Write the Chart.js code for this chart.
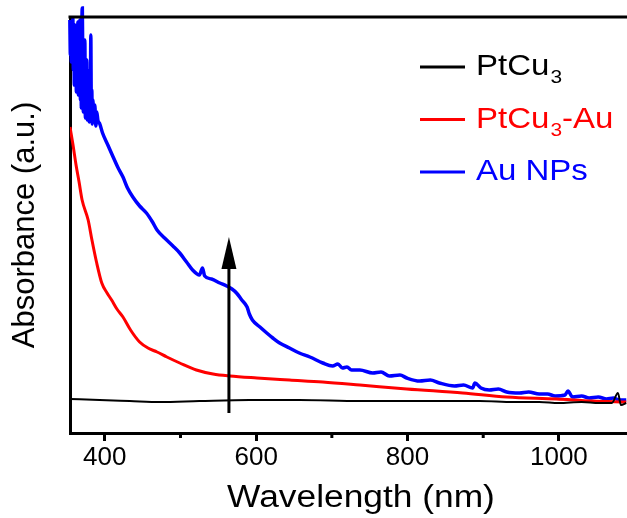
<!DOCTYPE html>
<html>
<head>
<meta charset="utf-8">
<script src="https://cdn.jsdelivr.net/npm/chart.js@4.4.1/dist/chart.umd.min.js"></script>
<style>
  html, body { margin: 0; padding: 0; background: #fff; }
</style>
</head>
<body>
<canvas id="uvCanvas" width="627" height="518"></canvas>
<script>
// UV-vis spectra (x in nm, y in a.u.)
var ptcuNm  = [354, 393, 433, 473, 525, 591, 657, 737, 816, 895, 940, 974, 1000, 1030, 1053, 1070, 1078, 1082, 1089];
var ptcuAbs = [0.34, 0.33, 0.32, 0.31, 0.32, 0.33, 0.33, 0.32, 0.32, 0.32, 0.31, 0.31, 0.30, 0.31, 0.30, 0.30, 0.40, 0.28, 0.30];

var ptcuAuNm  = [354, 358, 362, 366, 370, 378, 383, 389, 396, 403, 409, 416, 424, 434, 446, 457, 469, 482, 499, 521, 543, 565, 601, 644, 688, 737, 799, 873, 931, 997, 1044, 1089];
var ptcuAuAbs = [3.06, 2.88, 2.68, 2.51, 2.33, 2.13, 1.93, 1.71, 1.50, 1.40, 1.33, 1.24, 1.16, 1.03, 0.91, 0.85, 0.81, 0.76, 0.70, 0.63, 0.59, 0.57, 0.55, 0.53, 0.51, 0.48, 0.44, 0.40, 0.36, 0.34, 0.32, 0.31];

var auNm = [353.8, 354.5, 355.1, 355.8, 356.4, 357.1, 357.8, 358.4, 359.1, 359.7, 360.4, 361.1, 361.7, 362.4, 363.0, 363.7, 364.4, 365.0, 365.7, 366.3,
            367.0, 367.7, 368.3, 369.0, 369.6, 370.3, 371.0, 371.6, 372.3, 372.9, 373.6, 374.3, 374.9, 375.6, 376.2, 376.9, 377.6, 378.2, 378.9, 379.5,
            380.2, 380.9, 381.5, 382.2, 382.8, 383.5, 384.2, 385.5, 386.8, 388.1, 389.4, 390.8, 393.4, 397,
            404, 411, 417, 424, 430, 437, 446, 455, 463, 469, 479, 490, 499, 508, 516, 525, 529, 532, 541, 552, 561, 568, 574, 581, 588, 591, 595, 605, 614, 622,
            631, 644, 657, 671, 688, 701, 708, 714, 720, 726, 737, 754, 765, 776, 790, 799, 816, 830, 842, 862, 874, 886, 889, 897, 908, 920, 931, 948, 960, 974,
            985, 995, 1008, 1012, 1018, 1030, 1040, 1052, 1063, 1072, 1080, 1089];
var auAbs = [4.13, 3.78, 4.08, 3.71, 4.03, 3.88, 4.15, 3.63, 3.98, 3.48, 4.08, 3.73, 3.93, 3.41, 4.03, 3.58, 4.11, 3.38, 3.88, 3.63,
             4.13, 3.33, 3.83, 3.25, 4.03, 4.25, 3.58, 3.21, 3.78, 3.38, 3.93, 3.15, 3.63, 3.28, 3.73, 3.13, 3.53, 3.23, 3.38, 3.11,
             3.63, 3.18, 3.98, 3.23, 3.43, 3.09, 3.33, 3.15, 3.28, 3.07, 3.21, 3.13, 3.09, 3.00,
             2.88, 2.76, 2.66, 2.56, 2.45, 2.36, 2.27, 2.20, 2.11, 2.03, 1.95, 1.87, 1.80, 1.71, 1.63, 1.58, 1.65, 1.57, 1.54, 1.50, 1.47, 1.44, 1.40, 1.33, 1.26, 1.19, 1.13, 1.06, 1.00, 0.95,
             0.90, 0.85, 0.80, 0.76, 0.70, 0.67, 0.69, 0.65, 0.66, 0.63, 0.63, 0.60, 0.61, 0.57, 0.58, 0.55, 0.52, 0.53, 0.50, 0.47, 0.48, 0.45, 0.50, 0.45, 0.43, 0.44, 0.41, 0.40, 0.41, 0.39,
             0.39, 0.37, 0.38, 0.42, 0.36, 0.37, 0.35, 0.36, 0.34, 0.35, 0.33, 0.33];

var xTicks = [400, 500, 600, 700, 800, 900, 1000];
var arrowNm = 564, arrowFrom = 0.20, arrowTo = 1.96;

var legendItems = [
  { name: "PtCu", sub: "3", rest: "",    color: "#000000" },
  { name: "PtCu", sub: "3", rest: "-Au", color: "#ff0000" },
  { name: "Au NPs", sub: "", rest: "",   color: "#0000ff" }
];

function toPoints(xs, ys) {
  var pts = [];
  for (var i = 0; i < xs.length; i++) pts.push({ x: xs[i], y: ys[i] });
  return pts;
}

var FONT = "'Liberation Sans', Arial, sans-serif";

var framePlugin = {
  id: 'frame',
  afterDraw: function(chart) {
    var ctx = chart.ctx, a = chart.chartArea, xs = chart.scales.x;
    ctx.save();
    ctx.strokeStyle = '#000';
    // top border
    ctx.lineWidth = 3;
    ctx.beginPath();
    ctx.moveTo(a.left - 1.5, a.top);
    ctx.lineTo(chart.width, a.top);
    ctx.stroke();
    // minor ticks
    xTicks.forEach(function(v) {
      if (v % 200 === 0) return;
      var px = xs.getPixelForValue(v);
      ctx.beginPath();
      ctx.moveTo(px, a.bottom);
      ctx.lineTo(px, a.bottom + 5);
      ctx.stroke();
    });
    // arrow
    var ax = xs.getPixelForValue(arrowNm);
    var y0 = chart.scales.y.getPixelForValue(arrowFrom);
    var y1 = chart.scales.y.getPixelForValue(arrowTo);
    ctx.beginPath();
    ctx.moveTo(ax, y0);
    ctx.lineTo(ax, y1 + 20);
    ctx.stroke();
    ctx.fillStyle = '#000';
    ctx.beginPath();
    ctx.moveTo(ax, y1);
    ctx.lineTo(ax - 7.5, y1 + 32);
    ctx.lineTo(ax + 7.5, y1 + 32);
    ctx.closePath();
    ctx.fill();

    // x axis title (slightly wide lettering, as in the figure)
    ctx.save();
    ctx.translate(361, 507);
    ctx.scale(1.14, 1);
    ctx.font = '31px ' + FONT;
    ctx.textAlign = 'center';
    ctx.textBaseline = 'alphabetic';
    ctx.fillText('Wavelength (nm)', 0, 0);
    ctx.restore();

    // legend
    legendItems.forEach(function(it, i) {
      var ly = 67 + i * 52.5;
      ctx.strokeStyle = it.color;
      ctx.lineWidth = 3;
      ctx.beginPath();
      ctx.moveTo(420, ly);
      ctx.lineTo(465, ly);
      ctx.stroke();
      ctx.save();
      ctx.translate(476, ly + 8);
      ctx.scale(1.1, 1);
      ctx.fillStyle = it.color;
      ctx.textBaseline = 'alphabetic';
      ctx.textAlign = 'left';
      ctx.font = '30px ' + FONT;
      var tx = 0;
      ctx.fillText(it.name, tx, 0);
      tx += ctx.measureText(it.name).width;
      if (it.sub) {
        ctx.font = '19px ' + FONT;
        ctx.fillText(it.sub, tx + 1, 8);
        tx += ctx.measureText(it.sub).width + 1;
      }
      if (it.rest) {
        ctx.font = '30px ' + FONT;
        ctx.fillText(it.rest, tx, 0);
      }
      ctx.restore();
    });
    ctx.restore();
  }
};

var ctx = document.getElementById('uvCanvas').getContext('2d');
var chart = new Chart(ctx, {
  type: 'line',
  data: {
    datasets: [
      { label: 'PtCu3', data: toPoints(ptcuNm, ptcuAbs), borderColor: '#000000', borderWidth: 2 },
      { label: 'PtCu3-Au', data: toPoints(ptcuAuNm, ptcuAuAbs), borderColor: '#ff0000', borderWidth: 3 },
      { label: 'Au NPs', data: toPoints(auNm, auAbs), borderColor: '#0000ff', borderWidth: 3.5, clip: false }
    ]
  },
  options: {
    responsive: false,
    animation: false,
    parsing: false,
    elements: { point: { radius: 0 }, line: { cubicInterpolationMode: 'monotone' } },
    layout: { padding: { top: 17, right: 0, bottom: 0, left: 0 } },
    plugins: { legend: { display: false }, tooltip: { enabled: false } },
    scales: {
      x: {
        type: 'linear',
        min: 354,
        max: 1090,
        afterBuildTicks: function(s) { s.ticks = xTicks.map(function(v) { return { value: v }; }); },
        afterFit: function(s) { s.height = 85; },
        border: { display: true, color: '#000', width: 3 },
        grid: {
          drawOnChartArea: false,
          drawTicks: true,
          tickLength: 8,
          tickWidth: 3,
          tickColor: function(c) { return (c.tick && c.tick.value % 200 === 0) ? '#000' : 'rgba(0,0,0,0)'; }
        },
        ticks: {
          autoSkip: false,
          maxRotation: 0,
          padding: 1,
          color: '#000',
          font: { family: FONT, size: 26 },
          callback: function(v) { return v % 200 === 0 ? String(v) : ''; }
        },
        title: { display: false }
      },
      y: {
        min: 0,
        max: 4.16,
        afterFit: function(s) { s.width = 70; },
        border: { display: true, color: '#000', width: 3 },
        grid: { display: false },
        ticks: { display: false },
        title: {
          display: true,
          text: 'Absorbance (a.u.)',
          color: '#000',
          font: { family: FONT, size: 31 },
          padding: { top: 7, bottom: 0 }
        }
      }
    }
  },
  plugins: [framePlugin]
});
</script>
</body>
</html>
